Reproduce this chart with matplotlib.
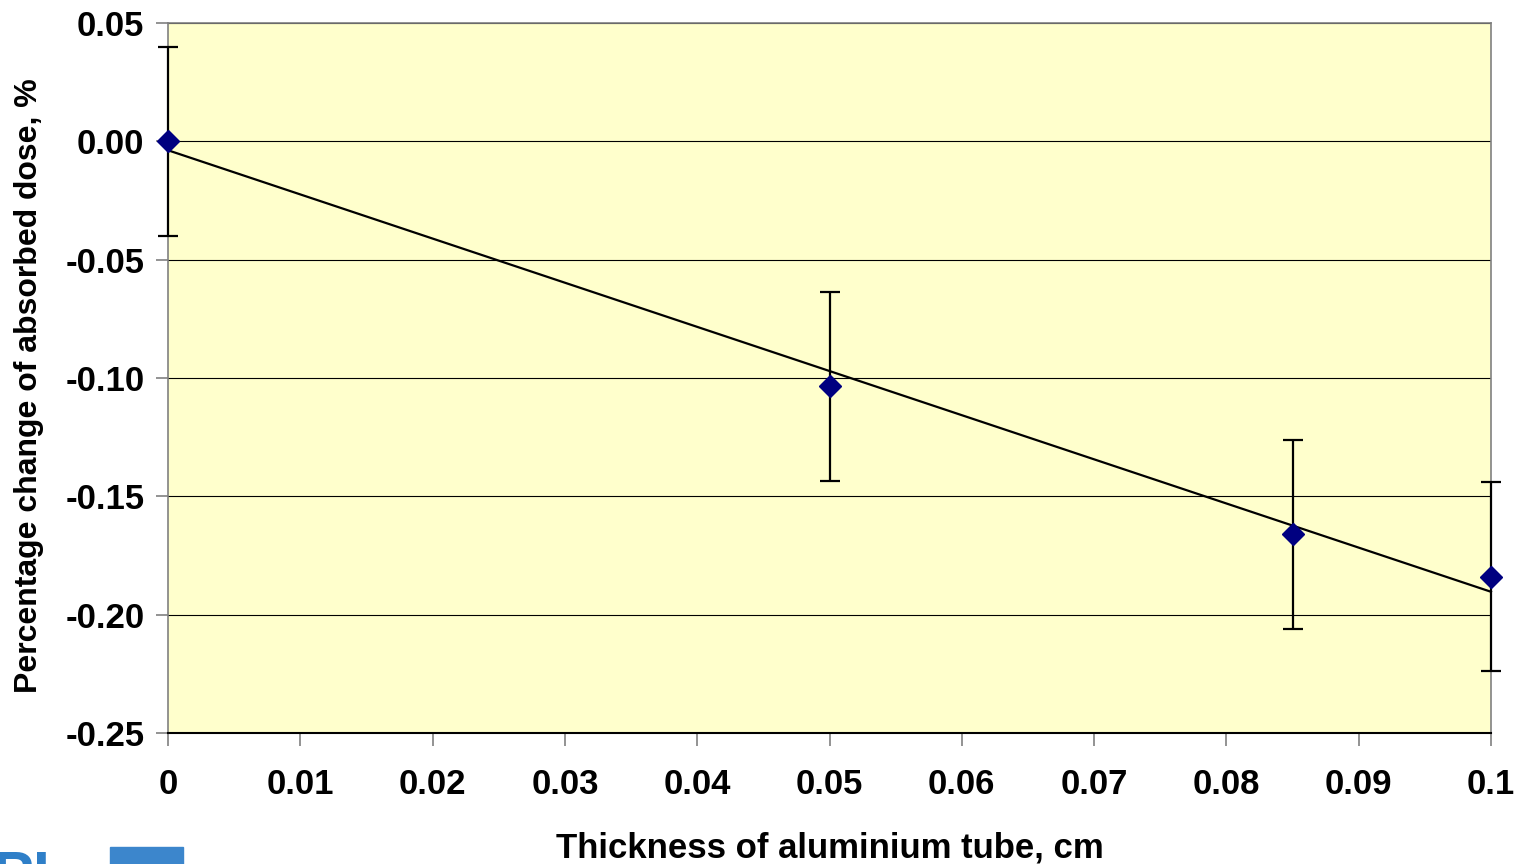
import numpy as np
import matplotlib.pyplot as plt
from matplotlib.patches import Rectangle

# measured change of absorbed dose vs tube wall thickness
thickness = [0.0, 0.05, 0.085, 0.1]
dose_change = [0.0, -0.1035, -0.166, -0.184]
dose_err = [0.04, 0.04, 0.04, 0.04]

x_ticks = [0, 0.01, 0.02, 0.03, 0.04, 0.05, 0.06, 0.07, 0.08, 0.09, 0.1]
x_ticklabels = ['0', '0.01', '0.02', '0.03', '0.04', '0.05', '0.06', '0.07', '0.08', '0.09', '0.1']
y_ticks = [0.05, 0.0, -0.05, -0.10, -0.15, -0.20, -0.25]

plt.rcParams['font.family'] = ['Liberation Sans', 'DejaVu Sans']
plt.rcParams['font.weight'] = 'bold'

fig = plt.figure(figsize=(15.24, 8.64), dpi=100)
ax = fig.add_axes([168 / 1524, 1 - 733 / 864, (1491 - 168) / 1524, (733 - 23) / 864])
ax.set_facecolor('#FFFFCC')

for yv in y_ticks:
    ax.axhline(yv, color='black', lw=0.8, zorder=1)

# linear trend through the points
k, b = np.polyfit(thickness, dose_change, 1)
xs = np.array([0.0, 0.1])
ax.plot(xs, k * xs + b, color='black', lw=1.6, zorder=3, clip_on=False)

ax.errorbar(thickness, dose_change, yerr=dose_err, fmt='none', ecolor='black',
            elinewidth=1.6, capsize=7.5, capthick=1.6, zorder=4, clip_on=False)
ax.plot(thickness, dose_change, linestyle='none', marker='D', markersize=11,
        color='#000080', zorder=5, clip_on=False)

ax.set_xlim(0, 0.1)
ax.set_ylim(-0.25, 0.05)
ax.set_xticks(x_ticks)
ax.set_xticklabels(x_ticklabels)
ax.set_yticks(y_ticks)
ax.set_yticklabels(['%.2f' % v for v in y_ticks])

for side in ['top', 'right', 'left']:
    ax.spines[side].set_color('#808080')
    ax.spines[side].set_linewidth(1.2)
ax.spines['bottom'].set_color('black')
ax.spines['bottom'].set_linewidth(1.5)

ax.tick_params(axis='both', labelsize=25, color='#808080', length=9, width=1.2)
ax.tick_params(axis='x', pad=16)
ax.tick_params(axis='y', pad=8)

ax.set_xlabel('Thickness of aluminium tube, cm', fontsize=25, fontweight='bold', labelpad=22)
ax.set_ylabel('Percentage change of absorbed dose, %', fontsize=23, fontweight='bold')
ax.yaxis.set_label_coords(-124 / 1323, (733 - 386) / 710)

# bits of the logo along the bottom edge
fig.text(-0.005, -0.035, 'PL', fontsize=44, fontweight='bold', color='#2f7fc8')
fig.patches.append(Rectangle((110 / 1524, 0), 73 / 1524, 17 / 864, transform=fig.transFigure,
                             color='#3c86cc', zorder=0))

fig.savefig('out.png', dpi=100)
